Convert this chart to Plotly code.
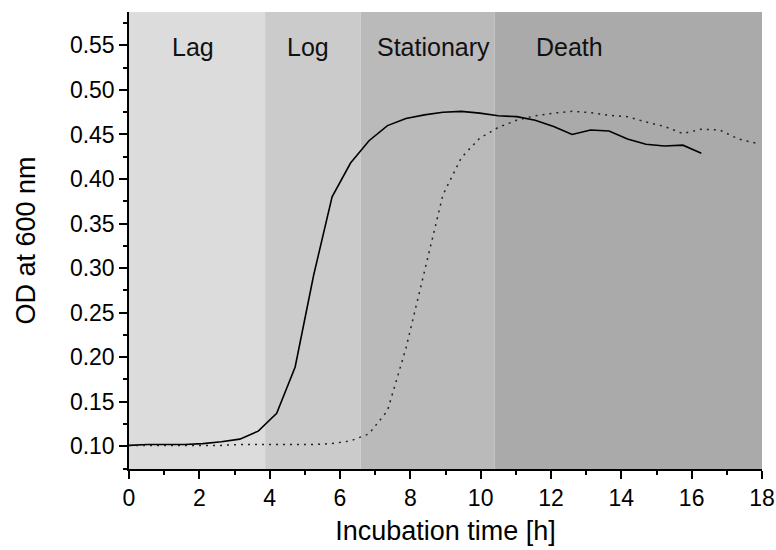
import plotly.graph_objects as go

# Incubation time (h) for each OD reading
t_a = [0.0, 0.525, 1.05, 1.575, 2.1, 2.625, 3.15, 3.675, 4.2, 4.725, 5.25, 5.775, 6.3, 6.825,
       7.35, 7.875, 8.4, 8.925, 9.45, 9.975, 10.5, 11.025, 11.55, 12.075, 12.6, 13.125,
       13.65, 14.175, 14.7, 15.225, 15.75, 16.275]
od_a = [0.101, 0.102, 0.102, 0.102, 0.103, 0.105, 0.108, 0.117, 0.137, 0.189, 0.292, 0.380,
        0.418, 0.443, 0.460, 0.468, 0.472, 0.475, 0.476, 0.474, 0.471, 0.470, 0.466, 0.459,
        0.450, 0.455, 0.454, 0.445, 0.439, 0.437, 0.438, 0.429]

t_b = [0.0, 0.525, 1.05, 1.575, 2.1, 2.625, 3.15, 3.675, 4.2, 4.725, 5.25, 5.775, 6.3, 6.825,
       7.35, 7.875, 8.4, 8.925, 9.45, 9.975, 10.5, 11.025, 11.55, 12.075, 12.6, 13.125,
       13.65, 14.175, 14.7, 15.225, 15.75, 16.275, 16.8, 17.325, 17.85]
od_b = [0.101, 0.101, 0.101, 0.101, 0.101, 0.101, 0.102, 0.102, 0.102, 0.102, 0.102, 0.103,
        0.106, 0.114, 0.140, 0.210, 0.296, 0.382, 0.424, 0.446, 0.458, 0.466, 0.471, 0.474,
        0.476, 0.4745, 0.4715, 0.470, 0.464, 0.459, 0.451, 0.456, 0.455, 0.445, 0.440]

# Growth phases
phase_names = ["Lag", "Log", "Stationary", "Death"]
phase_start = [0.0, 3.87, 6.59, 10.40]
phase_end = [3.87, 6.59, 10.40, 18.0]
phase_label_x = [1.81, 5.08, 8.65, 12.54]
phase_colors = ["#dcdcdc", "#cbcbcb", "#bababa", "#aaaaaa"]

x_ticks = [0, 2, 4, 6, 8, 10, 12, 14, 16, 18]
y_ticks = [0.10, 0.15, 0.20, 0.25, 0.30, 0.35, 0.40, 0.45, 0.50, 0.55]

FONT = "Arial, Liberation Sans, sans-serif"

fig = go.Figure()

shapes = []
for x0, x1, c in zip(phase_start, phase_end, phase_colors):
    shapes.append(dict(type="rect", xref="x", yref="paper", x0=x0, x1=x1, y0=0, y1=1,
                       fillcolor=c, line=dict(width=0), layer="below"))

annotations = []
for name, lx in zip(phase_names, phase_label_x):
    annotations.append(dict(x=lx, y=0.548, xref="x", yref="y", text=name, showarrow=False,
                            font=dict(family=FONT, size=25, color="#111111"),
                            xanchor="center", yanchor="middle"))

fig.add_trace(go.Scatter(x=t_a, y=od_a, mode="lines",
                         line=dict(color="#000000", width=1.6), showlegend=False))
fig.add_trace(go.Scatter(x=t_b, y=od_b, mode="lines",
                         line=dict(color="#222222", width=1.5, dash="2px,5px"), showlegend=False))

fig.update_layout(
    width=776, height=550,
    margin=dict(l=129, r=14, t=12, b=81),
    paper_bgcolor="white", plot_bgcolor="white",
    shapes=shapes, annotations=annotations,
    font=dict(family=FONT, color="#000000"),
    xaxis=dict(range=[0, 18], tickvals=x_ticks, ticktext=[str(v) for v in x_ticks],
               automargin=False,
               showgrid=False, zeroline=False, showline=True, linecolor="black", linewidth=1.5,
               ticks="outside", ticklen=8, tickwidth=1.5, tickcolor="black",
               tickfont=dict(size=23, family=FONT),
               minor=dict(dtick=1, tick0=0, ticks="outside", ticklen=4, tickwidth=1.5, tickcolor="black"),
               title=dict(text="Incubation time [h]", font=dict(size=27, family=FONT), standoff=11)),
    yaxis=dict(range=[0.0745, 0.5875], tickvals=y_ticks, ticktext=[f"{v:.2f}" for v in y_ticks],
               automargin=False,
               showgrid=False, zeroline=False, showline=True, linecolor="black", linewidth=1.5,
               ticks="outside", ticklen=8, tickwidth=1.5, tickcolor="black",
               tickfont=dict(size=23, family=FONT),
               minor=dict(dtick=0.025, tick0=0.075, ticks="outside", ticklen=4, tickwidth=1.5, tickcolor="black"),
               title=dict(text="OD at 600 nm", font=dict(size=27, family=FONT), standoff=26)),
)

fig.write_html("out.html")
